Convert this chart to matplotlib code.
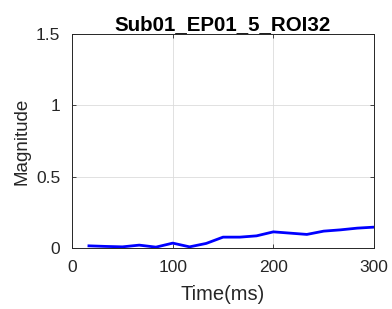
import numpy as np
import matplotlib
matplotlib.use("Agg")
import matplotlib.pyplot as plt

plt.rcParams['font.family'] = ['Liberation Sans', 'DejaVu Sans']

# data
time_ms = [16.7, 33.3, 50.0, 66.7, 83.3, 100.0, 116.7, 133.3, 150.0,
           166.7, 183.3, 200.0, 216.7, 233.3, 250.0, 266.7, 283.3, 300.0]
magnitude = [0.016, 0.012, 0.009, 0.021, 0.007, 0.035, 0.009, 0.033, 0.077,
             0.077, 0.086, 0.114, 0.105, 0.096, 0.119, 0.128, 0.140, 0.147]
x_ticks = [0, 100, 200, 300]
y_ticks = [0, 0.5, 1, 1.5]
y_tick_labels = ['0', '0.5', '1', '1.5']

fig = plt.figure(figsize=(3.92, 3.09), dpi=100)
ax = fig.add_axes([0.184, 0.197, 0.770, 0.693])

ax.plot(time_ms, magnitude, color='#0000ff', linewidth=2)

ax.set_xlim(0, 300)
ax.set_ylim(0, 1.5)
ax.set_xticks(x_ticks)
ax.set_yticks(y_ticks)
ax.set_yticklabels(y_tick_labels)
ax.grid(True, color='#dcdcdc', linewidth=0.6)
ax.set_axisbelow(True)
ax.tick_params(direction='in', length=3, width=0.6, labelsize=12.5, colors='#262626',
               top=True, right=True)
ax.tick_params(axis='x', pad=8.5)
ax.tick_params(axis='y', pad=8.5)
for s in ax.spines.values():
    s.set_color('#262626')
    s.set_linewidth(0.7)

ax.set_xlabel('Time(ms)', fontsize=14.5, color='#262626', labelpad=7)
ax.set_ylabel('Magnitude', fontsize=13.5, color='#262626', labelpad=4)
ax.set_title('Sub01_EP01_5_ROI32', fontsize=14.8, fontweight='bold', pad=3)

fig.savefig('out.png', dpi=100)
